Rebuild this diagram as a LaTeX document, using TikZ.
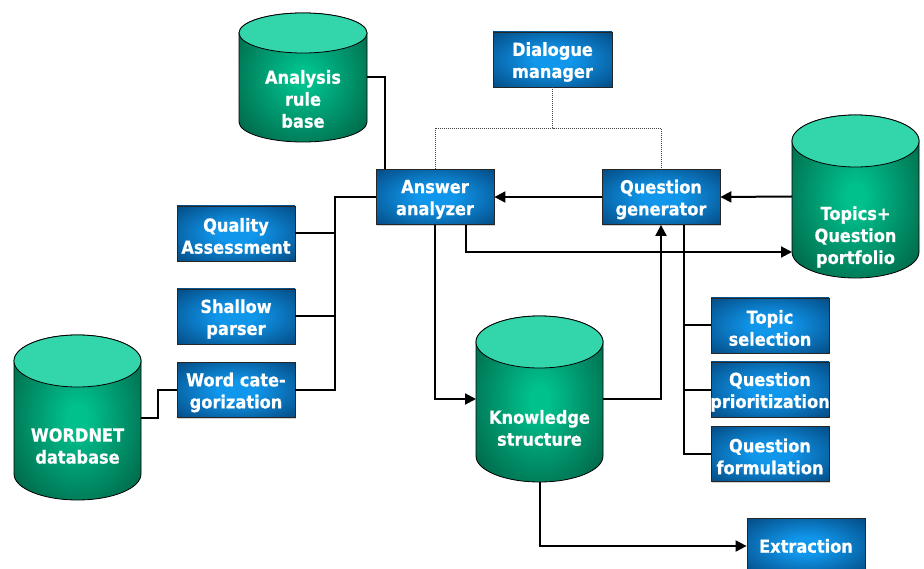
\documentclass[tikz,border=0pt]{standalone}
\usepackage{fontspec}
\setmainfont{DejaVu Sans}[FakeStretch=0.9, BoldFeatures={FakeBold=0.5}]
\usetikzlibrary{arrows.meta,calc,shadows}

\definecolor{boxin}{RGB}{16,150,235}
\definecolor{boxout}{RGB}{0,52,100}
\definecolor{dbdark}{RGB}{0,72,50}
\definecolor{dbmid}{RGB}{0,192,140}
\definecolor{dbcapcol}{RGB}{50,214,170}
\pgfdeclareradialshading{boxglow}{\pgfpoint{0bp}{0bp}}{color(0bp)=(boxin); color(8bp)=(boxin); color(44bp)=(boxout); color(72bp)=(boxout)}
\pgfdeclareradialshading{dbglow}{\pgfpoint{0bp}{0bp}}{color(0bp)=(dbmid); color(4bp)=(dbmid); color(42bp)=(dbdark); color(72bp)=(dbdark)}

\tikzset{
  module/.style={rectangle, minimum width=118pt, minimum height=55pt, inner sep=0pt,
    draw=black!85, line width=0.8pt, shading=boxglow,
    drop shadow={shadow xshift=1.2pt, shadow yshift=-1.2pt, fill=black!35},
    text=white, font=\fontsize{18}{22}\selectfont\bfseries, align=center},
  modtext/.style={text=white, font=\fontsize{18}{22}\selectfont\bfseries, align=center, inner sep=0pt},
  dbbody/.style={draw=black, line width=0.8pt, shading=dbglow},
  dbcap/.style={draw=black, line width=0.8pt, fill=dbcapcol},
  dbarea/.style={rectangle, draw=none, inner sep=0pt, outer sep=0pt},
  link/.style={line width=2pt, draw=black},
  arr/.style={link, -{Triangle[length=11pt,width=11pt]}},
  dotlink/.style={line width=0.9pt, draw=black!75, dash pattern=on 1pt off 1pt},
}

% two-line module: name, centre, label (text sits a little below the geometric centre)
\newcommand\module[4][]{%
  \node[module, #1] (#2) at (#3) {};
  \node[modtext] (#2-text) at ($(#2.center)+(0,-2.5)$) {#4};
}

% database cylinder: name, left x, top y, right x, bottom y, cap half-height, label centre y, label
\newcommand\database[8]{%
  \pgfmathsetmacro\dbrx{(#4-#2)/2}%
  \pgfmathsetmacro\dbw{#4-#2}%
  \pgfmathsetmacro\dbh{#5-#3}%
  \path[dbbody] (#2,{-(#3+#6)}) -- (#2,{-(#5-#6)})
    arc[start angle=180,end angle=360,x radius=\dbrx,y radius=#6]
    -- (#4,{-(#3+#6)})
    arc[start angle=0,end angle=180,x radius=\dbrx,y radius=#6] -- cycle;
  \path[dbcap] ({(#2+#4)/2},{-(#3+#6)}) ellipse[x radius=\dbrx,y radius=#6];
  \node[dbarea, minimum width=\dbw pt, minimum height=\dbh pt] (#1) at ({(#2+#4)/2},{-(#3+#5)/2}) {};
  \node[modtext] (#1-text) at ({(#2+#4)/2},-#7) {#8};
}

\begin{document}
\begin{tikzpicture}[x=1pt,y=1pt]
\useasboundingbox (0,0) rectangle (924,-569);
\fill[white] (0,0) rectangle (924,-569);

% databases
\database{arb}{239}{13}{367}{142}{20}{99}{Analysis\\rule\\base}
\database{tq}{792}{115}{919}{278}{26}{237}{Topics+\\Question\\portfolio}
\database{ks}{476}{316}{603}{482}{26}{428}{Knowledge\\structure}
\database{wn}{14}{335}{141}{500}{26}{446}{WORDNET\\database}

% processing modules
\module[minimum width=119pt]{dm}{552.5,-59.5}{Dialogue\\manager}
\module{aa}{435,-197}{Answer\\analyzer}
\module{qg}{661,-197}{Question\\generator}
\module{qa}{236,-233.5}{Quality\\Assessment}
\module{sp}{236,-316.5}{Shallow\\parser}
\module{wc}{236,-390}{Word cate-\\gorization}
\module{ts}{770,-325.5}{Topic\\selection}
\module{qp}{770,-389.5}{Question\\prioritization}
\module{qf}{770,-454}{Question\\formulation}
\node[module] (ex) at (806,-546) {Extraction};

% dialogue manager control (dotted)
\coordinate (dmj) at (552.5,-128);
\draw[dotlink] (dm.south) -- (dmj);
\draw[dotlink] (aa.north) |- (dmj) -| (qg.north);

% rule base to answer analyzer
\draw[link] (arb.east) -| ($(aa.north west)+(9,0)$);

% main flow
\draw[arr] (qg.west) -- (aa.east);
\draw[arr] (tq.west) -- (qg.east);
\draw[arr] ($(aa.south west)+(90,0)$) |- ($(tq.west)+(0,-55.5)$);
\draw[arr] (aa.south) |- (ks.west);
\draw[arr] (ks.east) -| (qg.south);
\draw[arr] (ks.south) |- (ex.west);

% question generator sub-modules
\coordinate (qgb) at ($(qg.south west)+(82,0)$);
\draw[link] (qgb) |- (qf.west);
\draw[link] (ts.west) -- (ts.west -| qgb);
\draw[link] (qp.west) -- (qp.west -| qgb);

% answer analyzer sub-modules
\coordinate (lb) at (335,-197);
\draw[link] (aa.west) -- (lb) |- (wc.east);
\draw[link] (qa.east) -- (qa.east -| lb);
\draw[link] (sp.east) -- (sp.east -| lb);

% lexical database
\draw[link] (wn.east) -- ++(17,0) |- (wc.west);
\end{tikzpicture}
\end{document}
